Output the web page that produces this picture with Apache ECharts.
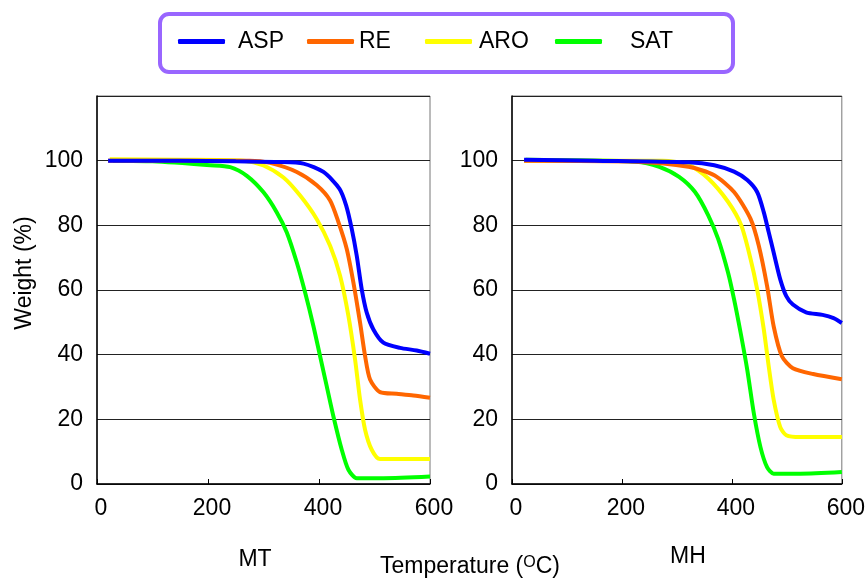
<!DOCTYPE html>
<html><head><meta charset="utf-8">
<script src="https://cdn.jsdelivr.net/npm/echarts@6/dist/echarts.min.js"></script>
<style>html,body{margin:0;padding:0;background:#fff}#c{width:868px;height:579px}</style>
</head><body><div id="c"></div>
<script>
var seriesNames = ['ASP', 'RE', 'ARO', 'SAT'];
var colors = ['#0000ff', '#ff6600', '#ffff00', '#00ff00'];
var xTicks = [0, 200, 400, 600];
var yTicks = [0, 20, 40, 60, 80, 100];
var panelNames = ['MT', 'MH'];

// MT panel: [temperature, weight %]
var mtASP = [[20,100],[150,100],[250,99.8],[330,99.6],[372,99.1],[408,96.5],[437,91.3],[449,86.1],[459,78.9],[468,70.6],[477,60.2],[486,53],[498,47.8],[516,43.7],[546,42.1],[576,41.3],[600,40.3]];
var mtRE  = [[20,100],[150,100],[275,100],[312,99.3],[360,96.5],[396,92.4],[420,87.7],[435,81],[450,72.7],[462,62.3],[474,49.9],[483,39.6],[492,32.3],[510,28.4],[540,27.9],[570,27.4],[600,26.7]];
var mtARO = [[23,100.4],[150,100.3],[264,100],[300,98.5],[336,94.8],[366,89.2],[396,81.9],[420,73.7],[438,64.4],[453,52],[465,38.5],[474,26.1],[483,16.8],[495,10.6],[510,7.7],[600,7.7]];
var mtSAT = [[29,100],[100,99.8],[204,98.6],[240,98],[270,95.3],[300,90.2],[324,84],[342,77.8],[360,68.5],[375,59.2],[390,48.8],[402,39.5],[414,30.2],[426,20.9],[441,10.6],[453,4.4],[468,1.8],[516,1.8],[600,2.3]];

// MH panel
var mhASP = [[22,100.3],[150,100],[321,99.5],[368,98.6],[404,96.6],[428,94],[446,90.3],[458,84.1],[467,77.9],[476,71.6],[488,63.3],[499,58.1],[511,55.5],[535,53.1],[565,52.3],[585,51.3],[600,49.8]];
var mhRE  = [[22,100],[226,99.7],[321,98.1],[368,95.5],[404,90.3],[434,82],[449,73.7],[464,61.3],[476,48.8],[491,39.5],[511,35.8],[548,34],[600,32.4]];
var mhARO = [[22,100],[274,100],[321,98.7],[357,94.5],[393,87.3],[417,80],[434,69.6],[446,60.2],[458,47.9],[467,36.4],[476,26.1],[488,17.6],[499,15.1],[524,14.5],[600,14.5]];
var mhSAT = [[25,100.3],[226,99.7],[268,98.1],[304,95],[333,90.3],[357,83.1],[375,75.8],[393,65.4],[404,57.1],[416,46.7],[428,35.3],[440,21.8],[452,11.4],[464,5.2],[476,3.2],[524,3.2],[600,3.7]];

var panelData = [[mtASP, mtRE, mtARO, mtSAT], [mhASP, mhRE, mhARO, mhSAT]];

var FONT = '"Liberation Sans", Arial, sans-serif';
var chart = echarts.init(document.getElementById('c'));

function xAxis(i) {
  return {
    type: 'value', gridIndex: i, min: xTicks[0], max: xTicks[xTicks.length - 1], interval: 200,
    axisLine: { show: true, lineStyle: { color: '#000', width: 1.5 } },
    axisTick: { show: true, inside: true, length: 5, lineStyle: { color: '#000' } },
    axisLabel: { color: '#000', fontSize: 23, fontFamily: FONT, margin: 13, padding: [0, 0, 0, 8] },
    splitLine: { show: false }
  };
}
function yAxis(i) {
  return {
    type: 'value', gridIndex: i, min: 0, max: 120, interval: 20,
    axisLine: { show: true, lineStyle: { color: '#000', width: 1.5 } },
    axisTick: { show: false },
    axisLabel: { color: '#000', fontSize: 23, fontFamily: FONT, margin: 14,
      formatter: function (v) { return yTicks.indexOf(v) >= 0 ? String(v) : ''; } },
    splitLine: { show: true, lineStyle: { color: '#222', width: 1 } }
  };
}

var series = [];
panelData.forEach(function (arr, p) {
  arr.forEach(function (d, k) {
    series.push({
      name: seriesNames[k], type: 'line', xAxisIndex: p, yAxisIndex: p,
      data: d, showSymbol: false, smooth: 0.25,
      lineStyle: { color: colors[k], width: 4 }, itemStyle: { color: colors[k] },
      z: 10 - k
    });
  });
});

var legendLeft = [178, 307, 425, 555];
var legendPadLeft = [8, 0, 2, 23];
var legendPadTop = [14, 6, 6, 6];
var legends = seriesNames.map(function (n, k) {
  return {
    data: [n], left: legendLeft[k], top: 30, padding: 0,
    icon: 'roundRect', itemWidth: 47, itemHeight: 5, selectedMode: false,
    textStyle: { fontSize: 23, fontFamily: FONT, color: '#000',
      padding: [legendPadTop[k], 0, 0, legendPadLeft[k]] }
  };
});

chart.setOption({
  animation: false,
  backgroundColor: '#fff',
  grid: [
    { left: 97, right: 438, top: 96, bottom: 95, show: true, borderColor: '#777', borderWidth: 1 },
    { left: 512, right: 20, top: 96, bottom: 95, show: true, borderColor: '#777', borderWidth: 1 }
  ],
  xAxis: [xAxis(0), xAxis(1)],
  yAxis: [yAxis(0), yAxis(1)],
  legend: legends,
  series: series,
  graphic: [
    { type: 'rect', shape: { x: 160, y: 14, width: 573, height: 58, r: 9 },
      style: { fill: 'none', stroke: '#9966ff', lineWidth: 4 }, z: -1 },
    { type: 'text', x: 25, y: 273, rotation: Math.PI / 2,
      style: { text: 'Weight (%)', fontSize: 23, fontFamily: FONT, fill: '#000', align: 'center', verticalAlign: 'middle' } },
    { type: 'text', x: 255, y: 560,
      style: { text: panelNames[0], fontSize: 23, fontFamily: FONT, fill: '#000', align: 'center', verticalAlign: 'middle' } },
    { type: 'text', x: 688, y: 557,
      style: { text: panelNames[1], fontSize: 23, fontFamily: FONT, fill: '#000', align: 'center', verticalAlign: 'middle' } },
    { type: 'text', x: 470, y: 567,
      style: { text: 'Temperature ({s|O}C)', fontSize: 23, fontFamily: FONT, fill: '#000', align: 'center', verticalAlign: 'middle',
        rich: { s: { fontSize: 16, fontFamily: FONT, fill: '#000', verticalAlign: 'top', padding: [0, 0, 8, 0] } } } }
  ]
});
</script></body></html>
